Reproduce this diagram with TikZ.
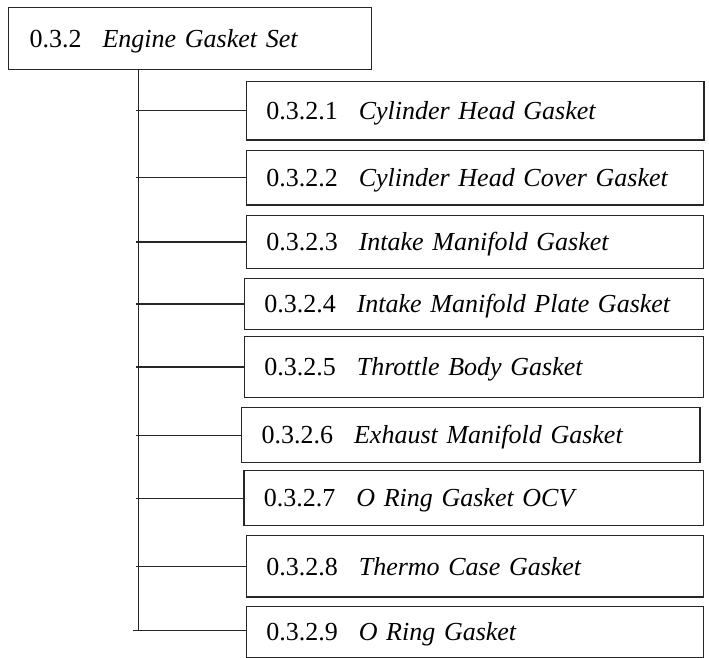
\documentclass[tikz,border=0pt]{standalone}
\usepackage{fontspec}
\setmainfont{Liberation Serif}
\begin{document}
\begin{tikzpicture}[x=1pt,y=-1pt,
  boxline/.style={draw=black!85, line width=1.2pt},
  topbox/.style={boxline, anchor=north west, inner ysep=0pt, inner xsep=21pt,
    align=left, text width=321pt, minimum height=62pt,
    font=\fontsize{26}{31}\selectfont, text height=19.5pt, text depth=1.9pt},
  childbox/.style={boxline, anchor=north west, inner ysep=0pt, inner xsep=20pt,
    align=left, font=\fontsize{26}{31}\selectfont, text height=19.5pt, text depth=1.9pt},
  link/.style={draw=black!85, line width=1.2pt}]
\useasboundingbox (0,0) rectangle (709,658);
\newcommand{\lbl}[2]{#1\hspace*{21pt}\textit{#2}}
\node[topbox] (top) at (8,7.3) {\lbl{0.3.2}{Engine Gasket Set}};
\node[childbox, text width=417.6pt, minimum height=58.3pt] (c1) at (245.7,81) {\lbl{0.3.2.1}{Cylinder Head Gasket}};
\node[childbox, text width=417.3pt, minimum height=54.3pt] (c2) at (245.7,150) {\lbl{0.3.2.2}{Cylinder Head Cover Gasket}};
\node[childbox, text width=417.3pt, minimum height=52.7pt] (c3) at (245.7,215) {\lbl{0.3.2.3}{Intake Manifold Gasket}};
\node[childbox, text width=419pt, minimum height=51.3pt] (c4) at (243.7,277.7) {\lbl{0.3.2.4}{Intake Manifold Plate Gasket}};
\node[childbox, text width=419.3pt, minimum height=60.7pt] (c5) at (243.7,336) {\lbl{0.3.2.5}{Throttle Body Gasket}};
\node[childbox, text width=418.3pt, minimum height=55pt] (c6) at (241,407) {\lbl{0.3.2.6}{Exhaust Manifold Gasket}};
\node[childbox, text width=419.7pt, minimum height=55pt] (c7) at (243.3,470) {\lbl{0.3.2.7}{O Ring Gasket OCV}};
\node[childbox, text width=417.3pt, minimum height=61.3pt] (c8) at (245.7,535) {\lbl{0.3.2.8}{Thermo Case Gasket}};
\node[childbox, text width=417.3pt, minimum height=51pt] (c9) at (245.7,606) {\lbl{0.3.2.9}{O Ring Gasket}};
\coordinate (trunk) at (138.3,0);
\draw[link] (top.south -| trunk) -- ([yshift=1.5pt]c9.west -| trunk);
\foreach \c in {c1,c2,c3,c4,c5,c6,c7,c8}{
  \draw[link] ([xshift=-2pt]\c.west -| trunk) -- (\c.west);
}
\draw[link] ([xshift=-5pt,yshift=1.5pt]c9.west -| trunk) -- ([yshift=1.5pt]c9.west);
\end{tikzpicture}
\end{document}
